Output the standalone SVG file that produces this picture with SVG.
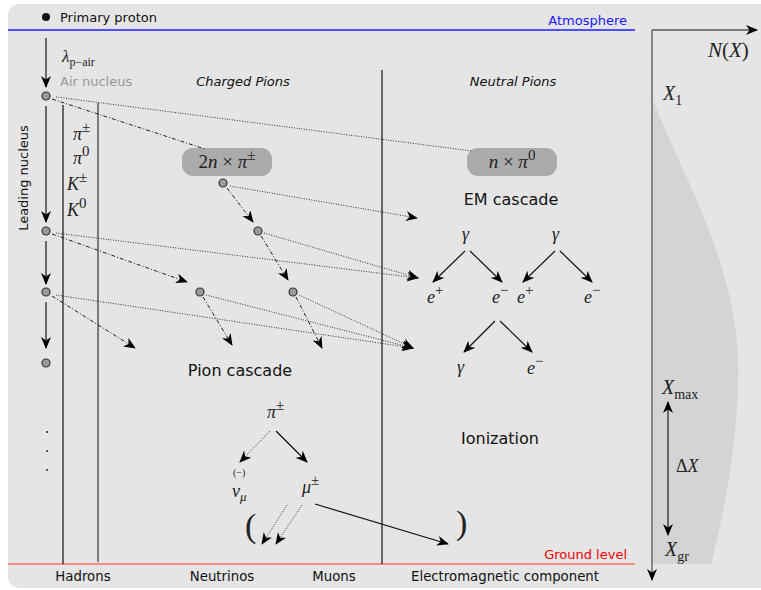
<svg xmlns="http://www.w3.org/2000/svg" width="761" height="590" viewBox="0 0 761 590">
<defs>
<style>
.sans{font-family:"DejaVu Sans","Liberation Sans",sans-serif;fill:#111}
.math{font-family:"Liberation Serif","DejaVu Serif",serif;font-style:italic;fill:#222}
.rm{font-style:normal}
.sup{font-style:normal;font-size:15px}
.dot{stroke:#333;stroke-width:1;stroke-dasharray:1 1.5;fill:none}
.dd{stroke:#222;stroke-width:1;stroke-dasharray:4 2 1 2;fill:none}
.sol{stroke:#111;stroke-width:1.2;fill:none}
.node{fill:#9a9a9a;stroke:#333;stroke-width:1.2}
.pill{fill:#ababab}
</style>
<marker id="ah" viewBox="0 0 12 10" refX="11" refY="5" markerWidth="12" markerHeight="10" markerUnits="userSpaceOnUse" orient="auto-start-reverse">
<path d="M0,0 L12,5 L0,10 L3.5,5 Z" fill="#000"/>
</marker>
</defs>
<rect x="8" y="4" width="770" height="584" rx="11" fill="#e5e5e5"/>

<!-- shower profile -->
<path d="M653,100 C680,170 735,260 738,360 C740,440 722,520 711,564 L653,564 Z" fill="#d4d4d4"/>

<!-- boundaries -->
<line x1="8" y1="30" x2="635" y2="30" stroke="#1a1aff" stroke-width="1.3"/>
<text x="627" y="25" text-anchor="end" class="sans" style="fill:#1a1aff;font-size:13px">Atmosphere</text>
<line x1="8" y1="564" x2="635" y2="564" stroke="#ff6b6b" stroke-width="1.5"/>
<text x="627" y="559" text-anchor="end" class="sans" style="fill:#e00;font-size:13px">Ground level</text>

<!-- axes -->
<g id="axes">
<line x1="652" y1="30" x2="652" y2="580" stroke="#666" stroke-width="1.5" marker-end="url(#ah)"/>
<line x1="652" y1="30" x2="757" y2="30" stroke="#555" stroke-width="1.3" marker-end="url(#ah)"/>
<text x="708" y="57" class="math" style="font-size:21px">N<tspan class="rm">(</tspan>X<tspan class="rm">)</tspan></text>
<text x="663" y="100" class="math" style="font-size:20px">X<tspan class="rm" dy="5" style="font-size:14px">1</tspan></text>
<text x="662" y="394" class="math" style="font-size:20px">X<tspan class="rm" dy="5" style="font-size:14px">max</tspan></text>
<line x1="668" y1="402" x2="668" y2="535" stroke="#444" stroke-width="1.5" marker-start="url(#ah)" marker-end="url(#ah)"/>
<text x="676" y="472" class="math" style="font-size:18px"><tspan class="rm">Δ</tspan>X</text>
<text x="665" y="556" class="math" style="font-size:20px">X<tspan class="rm" dy="5" style="font-size:14px">gr</tspan></text>
</g>

<!-- left hadron column -->
<g id="primary">
<circle cx="46" cy="17" r="4" fill="#111"/>
<text x="60" y="22" class="sans" style="font-size:13px">Primary proton</text>
</g>
<text x="62" y="62" class="math" style="font-size:17px">λ<tspan class="rm" dy="4" style="font-size:12px">p−air</tspan></text>
<text x="60" y="86" class="sans" style="fill:#999;font-size:13px">Air nucleus</text>
<text transform="translate(28,178) rotate(-90)" text-anchor="middle" class="sans" style="font-size:13px">Leading nucleus</text>

<line x1="63" y1="105" x2="63" y2="564" stroke="#111" stroke-width="1.2"/>
<line x1="98" y1="103" x2="98" y2="562" stroke="#333" stroke-width="1.2"/>
<line x1="382" y1="70" x2="382" y2="564" stroke="#111" stroke-width="1.2"/>

<g id="hadron-labels" class="math" style="font-size:18px">
<text x="73" y="140">π<tspan class="sup" dy="-8">±</tspan></text>
<text x="73" y="164">π<tspan class="sup" dy="-8">0</tspan></text>
<text x="67" y="190">K<tspan class="sup" dy="-8">±</tspan></text>
<text x="67" y="216">K<tspan class="sup" dy="-8">0</tspan></text>
</g>

<text x="243" y="86" text-anchor="middle" class="sans" style="font-size:13px;font-style:italic">Charged Pions</text>
<text x="513" y="86" text-anchor="middle" class="sans" style="font-size:13px;font-style:italic">Neutral Pions</text>

<!-- pills -->
<g id="pill-charged">
<rect x="182" y="148" width="90" height="28" rx="11" class="pill"/>
<text x="227" y="168" text-anchor="middle" class="math" style="font-size:19px"><tspan class="rm">2</tspan>n <tspan class="rm">×</tspan> π<tspan class="sup" dy="-8">±</tspan></text>
</g>
<g id="pill-neutral">
<rect x="467" y="148" width="90" height="28" rx="11" class="pill"/>
<text x="512" y="168" text-anchor="middle" class="math" style="font-size:19px">n <tspan class="rm">×</tspan> π<tspan class="sup" dy="-8">0</tspan></text>
</g>

<text x="511" y="205" text-anchor="middle" class="sans" style="font-size:16px">EM cascade</text>
<text x="240" y="376" text-anchor="middle" class="sans" style="font-size:16px">Pion cascade</text>
<text x="500" y="444" text-anchor="middle" class="sans" style="font-size:16px">Ionization</text>

<!-- connectors -->
<g id="connectors">
<line x1="46" y1="38" x2="46" y2="87" class="sol" marker-end="url(#ah)"/>
<line x1="46" y1="106" x2="46" y2="222" class="sol" marker-end="url(#ah)"/>
<line x1="46" y1="241" x2="46" y2="284" class="sol" marker-end="url(#ah)"/>
<line x1="46" y1="302" x2="46" y2="348" class="sol" marker-end="url(#ah)"/>

<line x1="56" y1="97" x2="472" y2="151" class="dot"/>
<line x1="52" y1="99" x2="205" y2="149" class="dd"/>

<line x1="230" y1="186" x2="417" y2="218" class="dot" marker-end="url(#ah)"/>
<line x1="56" y1="233" x2="418" y2="278" class="dot" marker-end="url(#ah)"/>
<line x1="264" y1="233" x2="418" y2="278" class="dot" marker-end="url(#ah)"/>
<line x1="56" y1="295" x2="413" y2="348" class="dot" marker-end="url(#ah)"/>
<line x1="206" y1="295" x2="413" y2="348" class="dot" marker-end="url(#ah)"/>
<line x1="299" y1="295" x2="413" y2="348" class="dot" marker-end="url(#ah)"/>

<line x1="227" y1="188" x2="253" y2="222" class="dd" marker-end="url(#ah)"/>
<line x1="261" y1="236" x2="288" y2="280" class="dd" marker-end="url(#ah)"/>
<line x1="52" y1="234" x2="187" y2="282" class="dd" marker-end="url(#ah)"/>
<line x1="52" y1="296" x2="135" y2="348" class="dd" marker-end="url(#ah)"/>
<line x1="203" y1="297" x2="232" y2="345" class="dd" marker-end="url(#ah)"/>
<line x1="296" y1="297" x2="322" y2="348" class="dd" marker-end="url(#ah)"/>

<!-- EM tree -->
<line x1="465" y1="251" x2="433" y2="282" class="sol" marker-end="url(#ah)"/>
<line x1="470" y1="251" x2="502" y2="282" class="sol" marker-end="url(#ah)"/>
<line x1="555" y1="251" x2="523" y2="282" class="sol" marker-end="url(#ah)"/>
<line x1="560" y1="251" x2="592" y2="282" class="sol" marker-end="url(#ah)"/>
<line x1="495" y1="321" x2="464" y2="352" class="sol" marker-end="url(#ah)"/>
<line x1="500" y1="321" x2="532" y2="352" class="sol" marker-end="url(#ah)"/>

<!-- pion decay -->
<line x1="270" y1="431" x2="240" y2="462" class="dot" marker-end="url(#ah)"/>
<line x1="276" y1="431" x2="307" y2="462" class="sol" marker-end="url(#ah)"/>
<line x1="287" y1="505" x2="262" y2="544" class="dot" marker-end="url(#ah)"/>
<line x1="302" y1="505" x2="276" y2="544" class="dot" marker-end="url(#ah)"/>
<line x1="315" y1="504" x2="448" y2="544" class="sol" marker-end="url(#ah)"/>
</g>

<!-- nodes -->
<g id="n-air"><circle cx="46" cy="96" r="4" class="node"/></g>
<g id="n-lead1"><circle cx="46" cy="231" r="4" class="node"/></g>
<g id="n-lead2"><circle cx="46" cy="292" r="4" class="node"/></g>
<g id="n-lead3"><circle cx="46" cy="363" r="4" class="node"/></g>
<g id="n-pi1"><circle cx="223" cy="183" r="4" class="node"/></g>
<g id="n-pi2"><circle cx="258" cy="231" r="4" class="node"/></g>
<g id="n-pi3"><circle cx="200" cy="292" r="4" class="node"/></g>
<g id="n-pi4"><circle cx="293" cy="292" r="4" class="node"/></g>

<g id="ellipsis" fill="#111">
<circle cx="47" cy="432" r="0.9"/>
<circle cx="47" cy="451" r="0.9"/>
<circle cx="47" cy="470" r="0.9"/>
</g>

<!-- EM labels -->
<g id="em-labels" class="math" style="font-size:18px">
<text x="462" y="240">γ</text>
<text x="552" y="240">γ</text>
<text x="427" y="303">e<tspan class="sup" dy="-8">+</tspan></text>
<text x="492" y="303">e<tspan class="sup" dy="-8">−</tspan></text>
<text x="517" y="303">e<tspan class="sup" dy="-8">+</tspan></text>
<text x="584" y="303">e<tspan class="sup" dy="-8">−</tspan></text>
<text x="457" y="373">γ</text>
<text x="527" y="374">e<tspan class="sup" dy="-8">−</tspan></text>
</g>

<!-- pion decay labels -->
<g id="decay-labels" class="math" style="font-size:18px">
<text x="267" y="418">π<tspan class="sup" dy="-8">±</tspan></text>
<text x="233" y="476" class="rm" style="font-size:10px">(−)</text>
<text x="232" y="497">ν<tspan dy="4" style="font-size:13px">μ</tspan></text>
<text x="302" y="493">μ<tspan class="sup" dy="-8">±</tspan></text>
<text x="245" y="537" class="rm" style="font-size:34px;font-style:normal">(</text>
<text x="456" y="534" class="rm" style="font-size:34px;font-style:normal">)</text>
</g>

<!-- bottom labels -->
<g class="sans" style="font-size:13.3px" text-anchor="middle">
<text x="83" y="581">Hadrons</text>
<text x="222" y="581">Neutrinos</text>
<text x="334" y="581">Muons</text>
<text x="505" y="581">Electromagnetic component</text>
</g>
</svg>
